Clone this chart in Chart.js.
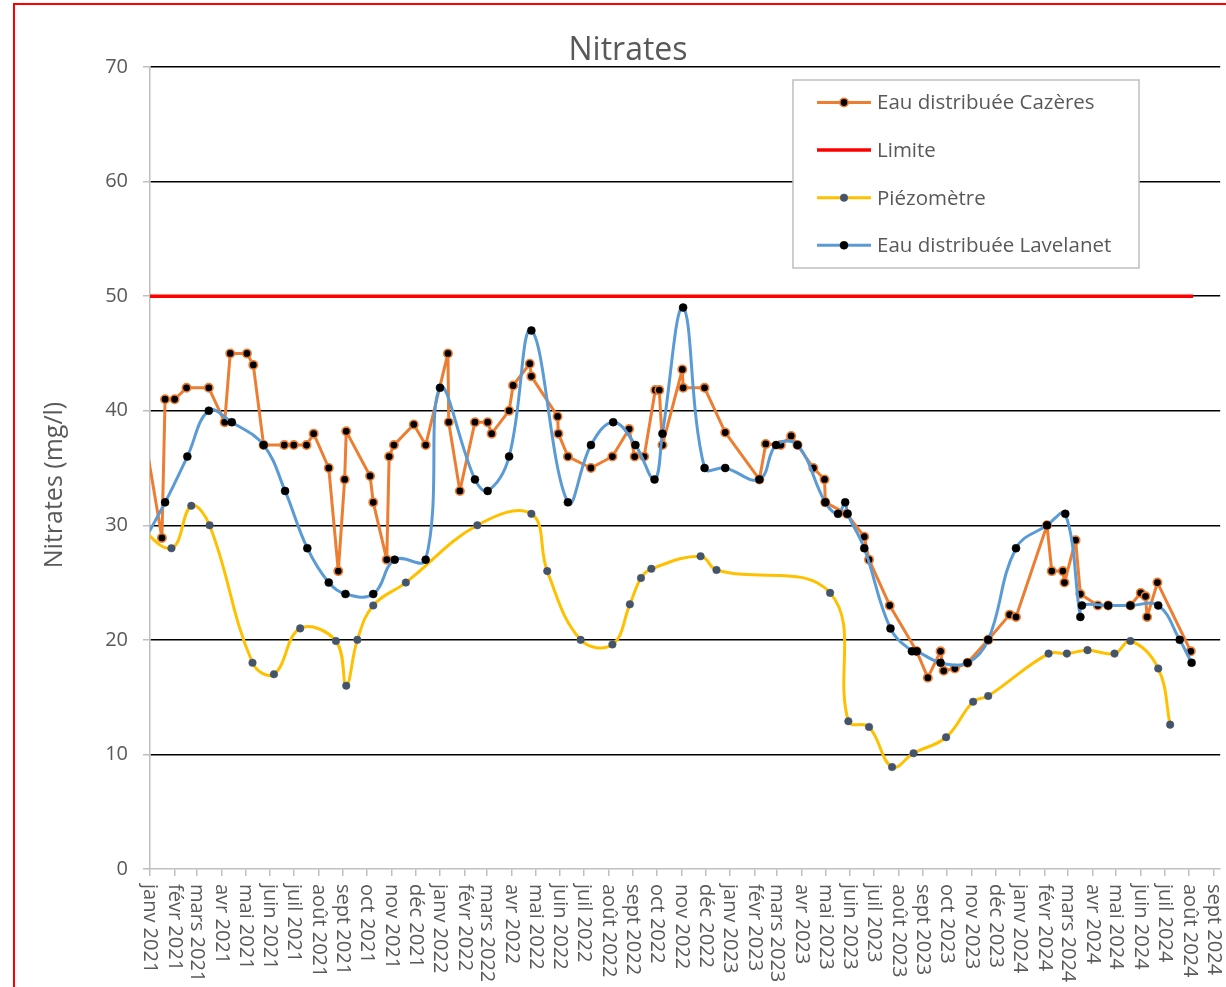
<!DOCTYPE html>
<html lang="fr">
<head>
<meta charset="utf-8">
<title>Nitrates</title>
<script src="https://cdn.jsdelivr.net/npm/chart.js@4.4.1/dist/chart.umd.min.js"></script>
<style>
    html, body { margin: 0; padding: 0; background: #ffffff; overflow: hidden; }
    #wrap { position: relative; width: 1226px; height: 987px; }
    #frame { position: absolute; left: 13px; top: 3px; width: 1400px; height: 1200px; border: 2px solid #ff0000; pointer-events: none; }
</style>
</head>
<body>
<div id="wrap">
    <canvas id="nitrates" width="1226" height="987"></canvas>
    <div id="frame"></div>
</div>
<script>
// Sampling dates and nitrate values (mg/l)
const cazeresDates = [
    '2020-12-20', '2021-01-16', '2021-01-20', '2021-02-01', '2021-02-16', '2021-03-16', '2021-04-05', '2021-04-12',
    '2021-05-03', '2021-05-11', '2021-05-24', '2021-06-19', '2021-07-01', '2021-07-17', '2021-07-26', '2021-08-14',
    '2021-08-26', '2021-09-03', '2021-09-05', '2021-10-05', '2021-10-09', '2021-10-26', '2021-10-29', '2021-11-04',
    '2021-11-29', '2021-12-14', '2022-01-11', '2022-01-12', '2022-01-26', '2022-02-14', '2022-03-02', '2022-03-07',
    '2022-03-29', '2022-04-03', '2022-04-24', '2022-04-26', '2022-05-29', '2022-05-30', '2022-06-11', '2022-07-10',
    '2022-08-06', '2022-08-27', '2022-09-03', '2022-09-15', '2022-09-29', '2022-10-04', '2022-10-08', '2022-11-02',
    '2022-11-03', '2022-11-30', '2022-12-26', '2023-02-07', '2023-02-15', '2023-03-06', '2023-03-19', '2023-03-27',
    '2023-04-16', '2023-04-30', '2023-05-01', '2023-05-28', '2023-06-19', '2023-06-25', '2023-07-21', '2023-08-24',
    '2023-09-07', '2023-09-23', '2023-09-27', '2023-10-11', '2023-10-27', '2023-11-22', '2023-12-19', '2023-12-27',
    '2024-02-04', '2024-02-10', '2024-02-24', '2024-02-26', '2024-03-11', '2024-03-17', '2024-04-08', '2024-04-21',
    '2024-05-19', '2024-06-01', '2024-06-07', '2024-06-09', '2024-06-22', '2024-08-03'
];
const cazeresValues = [
    40, 28.9, 41, 41, 42, 42, 39, 45,
    45, 44, 37, 37, 37, 37, 38, 35,
    26, 34, 38.2, 34.3, 32, 27, 36, 37,
    38.8, 37, 45, 39, 33, 39, 39, 38,
    40, 42.2, 44.1, 43, 39.5, 38, 36, 35,
    36, 38.4, 36, 36, 41.8, 41.8, 37, 43.6,
    42, 42, 38.1, 34, 37.1, 37, 37.8, 37,
    35, 34, 32, 31, 29, 27, 23, 19,
    16.7, 19, 17.3, 17.5, 18, 20, 22.2, 22,
    30, 26, 26, 25, 28.7, 24, 23, 23,
    23, 24.1, 23.8, 22, 25, 19
];

const limiteDates = ['2020-12-20', '2024-08-06'];
const limiteValues = [50, 50];

const piezoDates = [
    '2020-12-12', '2021-01-28', '2021-02-22', '2021-03-17', '2021-05-10', '2021-06-06', '2021-07-09', '2021-08-23',
    '2021-09-05', '2021-09-19', '2021-10-09', '2021-11-19', '2022-02-17', '2022-04-26', '2022-05-16', '2022-06-27',
    '2022-08-06', '2022-08-28', '2022-09-11', '2022-09-24', '2022-11-25', '2022-12-15', '2023-05-07', '2023-05-30',
    '2023-06-25', '2023-07-24', '2023-08-20', '2023-09-30', '2023-11-03', '2023-11-22', '2024-02-06', '2024-02-29',
    '2024-03-26', '2024-04-29', '2024-05-19', '2024-06-23', '2024-07-08'
];
const piezoValues = [
    30.3, 28, 31.7, 30, 18, 17, 21, 19.9,
    16, 20, 23, 25, 30, 31, 26, 20,
    19.6, 23.1, 25.4, 26.2, 27.3, 26.1, 24.1, 12.9,
    12.4, 8.9, 10.1, 11.5, 14.6, 15.1, 18.8, 18.8,
    19.1, 18.8, 19.9, 17.5, 12.6
];

const lavelanetDates = [
    '2020-12-17', '2021-01-20', '2021-02-17', '2021-03-16', '2021-04-14', '2021-05-24', '2021-06-20', '2021-07-18',
    '2021-08-14', '2021-09-04', '2021-10-09', '2021-11-05', '2021-12-14', '2022-01-01', '2022-02-14', '2022-03-02',
    '2022-03-29', '2022-04-26', '2022-06-11', '2022-07-10', '2022-08-07', '2022-09-04', '2022-09-28', '2022-10-08',
    '2022-11-03', '2022-11-30', '2022-12-26', '2023-02-07', '2023-02-28', '2023-03-27', '2023-05-01', '2023-05-17',
    '2023-05-26', '2023-05-29', '2023-06-19', '2023-07-22', '2023-08-18', '2023-08-24', '2023-09-23', '2023-10-27',
    '2023-11-22', '2023-12-27', '2024-02-04', '2024-02-27', '2024-03-17', '2024-03-19', '2024-04-21', '2024-05-19',
    '2024-06-23', '2024-07-20', '2024-08-04'
];
const lavelanetValues = [
    27.7, 32, 36, 40, 39, 37, 33, 28,
    25, 24, 24, 27, 27, 42, 34, 33,
    36, 47, 32, 37, 39, 37, 34, 38,
    49, 35, 35, 34, 37, 37, 32, 31,
    32, 31, 28, 21, 19, 19, 18, 18,
    20, 28, 30, 31, 22, 23, 23, 23,
    23, 20, 18
];

// Month tick labels (French)
const monthNames = ['janv', 'févr', 'mars', 'avr', 'mai', 'juin', 'juil', 'août', 'sept', 'oct', 'nov', 'déc'];
const tickYears = [2021, 2022, 2023, 2024];
const lastTickMonth = 8; // sept 2024

const yTitle = 'Nitrates (mg/l)';
const chartTitle = 'Nitrates';

const FONT = '"Open Sans", "Noto Sans", sans-serif';
const TEXT_COLOR = '#595959';
const DAY_MS = 86400000;
const originDate = Date.UTC(2021, 0, 1);

function toDay(iso) {
    return (Date.parse(iso) - originDate) / DAY_MS;
}

function toPoints(dates, values) {
    return dates.map((d, i) => ({ x: toDay(d), y: values[i] }));
}

// Build month ticks
const monthTicks = [];
tickYears.forEach(year => {
    monthNames.forEach((name, m) => {
        if (year === 2024 && m > lastTickMonth) return;
        monthTicks.push({
            value: (Date.UTC(year, m, 1) - originDate) / DAY_MS,
            label: name + ' ' + year
        });
    });
});

// Rotated month labels (reading top to bottom) and the y axis title
const axisText = {
    id: 'axisText',
    afterDraw(chart) {
        const scale = chart.scales.x;
        const area = chart.chartArea;
        const ctx = chart.ctx;
        ctx.save();
        ctx.fillStyle = TEXT_COLOR;
        ctx.font = '20px ' + FONT;
        ctx.textAlign = 'left';
        ctx.textBaseline = 'middle';
        monthTicks.forEach(t => {
            const x = scale.getPixelForValue(t.value);
            ctx.save();
            ctx.translate(x, scale.top + 15);
            ctx.rotate(Math.PI / 2);
            ctx.fillText(t.label, 0, 0);
            ctx.restore();
        });

        // y title, centred a little below the plot middle as in the original
        ctx.font = '25px ' + FONT;
        ctx.textAlign = 'center';
        ctx.translate(55, (area.top + area.bottom) / 2 + 17);
        ctx.rotate(-Math.PI / 2);
        ctx.fillText(yTitle, 0, 0);
        ctx.restore();
    }
};

// Boxed legend inside the plot area
const legendBox = {
    id: 'legendBox',
    afterDraw(chart) {
        const ctx = chart.ctx;
        const left = 793, top = 80, width = 346, height = 188;
        ctx.save();
        ctx.fillStyle = '#ffffff';
        ctx.fillRect(left, top, width, height);
        ctx.strokeStyle = '#BFBFBF';
        ctx.lineWidth = 1.5;
        ctx.strokeRect(left, top, width, height);

        ctx.font = '20.5px ' + FONT;
        ctx.textAlign = 'left';
        ctx.textBaseline = 'middle';
        chart.data.datasets.forEach((ds, i) => {
            const y = top + 22.5 + i * 47.6;
            ctx.strokeStyle = ds.borderColor;
            ctx.lineWidth = ds.borderWidth;
            ctx.beginPath();
            ctx.moveTo(817, y);
            ctx.lineTo(871, y);
            ctx.stroke();
            if (ds.pointRadius > 0) {
                ctx.beginPath();
                ctx.arc(844, y, ds.pointRadius, 0, Math.PI * 2);
                ctx.fillStyle = ds.pointBackgroundColor;
                ctx.fill();
                ctx.lineWidth = ds.pointBorderWidth;
                ctx.strokeStyle = ds.pointBorderColor;
                ctx.stroke();
            }
            ctx.fillStyle = TEXT_COLOR;
            ctx.fillText(ds.label, 877, y + 1);
        });
        ctx.restore();
    }
};

Chart.defaults.font.family = FONT;
Chart.defaults.font.size = 20;
Chart.defaults.color = TEXT_COLOR;

const edgeClip = { left: 0, right: 6, top: 6, bottom: 6 };

new Chart(document.getElementById('nitrates'), {
    type: 'line',
    data: {
        datasets: [
            {
                label: 'Eau distribuée Cazères',
                data: toPoints(cazeresDates, cazeresValues),
                borderColor: '#ED7D31',
                borderWidth: 3,
                borderJoinStyle: 'round',
                tension: 0,
                pointRadius: 4.2,
                pointBackgroundColor: '#000000',
                pointBorderColor: '#ED7D31',
                pointBorderWidth: 1.6,
                clip: edgeClip,
                order: 3
            },
            {
                label: 'Limite',
                data: toPoints(limiteDates, limiteValues),
                borderColor: '#FF0000',
                borderWidth: 3.5,
                tension: 0,
                pointRadius: 0,
                clip: edgeClip,
                order: 2
            },
            {
                label: 'Piézomètre',
                data: toPoints(piezoDates, piezoValues),
                borderColor: '#FFC000',
                borderWidth: 3,
                borderJoinStyle: 'round',
                tension: 0.4,
                pointRadius: 3.8,
                pointBackgroundColor: '#44546A',
                pointBorderColor: '#44546A',
                pointBorderWidth: 0.5,
                clip: edgeClip,
                order: 1
            },
            {
                label: 'Eau distribuée Lavelanet',
                data: toPoints(lavelanetDates, lavelanetValues),
                borderColor: '#5B9BD5',
                borderWidth: 3,
                borderJoinStyle: 'round',
                tension: 0.4,
                pointRadius: 4,
                pointBackgroundColor: '#000000',
                pointBorderColor: '#000000',
                pointBorderWidth: 0.5,
                clip: edgeClip,
                order: 0
            }
        ]
    },
    options: {
        responsive: false,
        animation: false,
        layout: {
            padding: { left: 34, right: 4, top: 0, bottom: 0 }
        },
        plugins: {
            legend: { display: false },
            tooltip: { enabled: false },
            title: {
                display: true,
                text: chartTitle,
                color: TEXT_COLOR,
                font: { family: FONT, size: 32, weight: 'normal', lineHeight: 1 },
                padding: { top: 35, bottom: 0 }
            }
        },
        scales: {
            x: {
                type: 'linear',
                min: 0,
                max: 1347,
                afterBuildTicks: (scale) => {
                    scale.ticks = monthTicks.map(t => ({ value: t.value }));
                },
                afterFit: (scale) => {
                    scale.height = 118;
                },
                ticks: { display: false },
                grid: {
                    drawOnChartArea: false,
                    drawTicks: true,
                    tickLength: 7,
                    tickColor: '#BFBFBF',
                    lineWidth: 1.5
                },
                border: { display: true, color: '#BFBFBF', width: 1.5 }
            },
            y: {
                min: 0,
                max: 70,
                afterFit: (scale) => {
                    scale.width = 116;
                },
                ticks: {
                    stepSize: 10,
                    color: TEXT_COLOR,
                    font: { family: FONT, size: 20 },
                    padding: 15
                },
                grid: {
                    color: (ctx) => ctx.tick && ctx.tick.value === 0 ? 'rgba(0,0,0,0)' : '#000000',
                    lineWidth: 1.5,
                    tickLength: 7,
                    tickColor: '#BFBFBF'
                },
                border: { display: true, color: '#BFBFBF', width: 1.5 },
                title: { display: false }
            }
        }
    },
    plugins: [axisText, legendBox]
});
</script>
</body>
</html>
